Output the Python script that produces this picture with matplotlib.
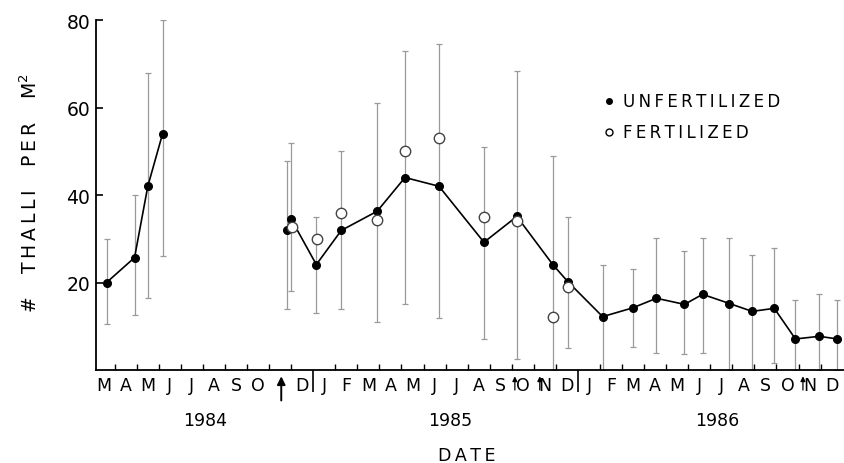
import numpy as np
import matplotlib.pyplot as plt
import matplotlib.transforms as mtransforms

# x positions are in months since 1 Jan 1984
unf_x_1984 = [2.63, 3.9, 4.5, 5.17]
unf_y_1984 = [20, 25.7, 42, 54]
unf_lo_1984 = [10.5, 12.5, 16.5, 26]
unf_hi_1984 = [30, 40, 68, 80]

unf_x = [10.83, 11.0, 12.14, 13.27, 14.9, 16.16, 17.7, 19.74, 21.23, 22.86, 23.54,
         25.12, 26.48, 27.56, 28.83, 29.65, 30.87, 31.9, 32.9, 33.86, 34.94, 35.76]
unf_y = [32, 34.5, 24.1, 31.9, 36.3, 44, 42, 29.2, 35.1, 24.1, 20.2,
         12.2, 14.2, 16.4, 15, 17.3, 15.2, 13.4, 14.1, 7.1, 7.7, 7.1]
unf_lo = [14, 18, 13, 14, 11, 15, 12, 7, 2.5, 0, 5,
          0, 5.2, 4, 3.6, 4, 0, 0, 1.6, 0, 0, 0]
unf_hi = [47.7, 52, 35, 50, 61, 73, 74.5, 51, 68.3, 49, 35,
          24, 23.2, 30.2, 27.3, 30.2, 30.2, 26.4, 28, 16.1, 17.3, 16.1]

fert_x = [11.05, 12.18, 13.27, 14.9, 16.16, 17.7, 19.74, 21.23, 22.86, 23.54]
fert_y = [32.7, 30, 35.8, 34.2, 50, 53, 35, 34, 12.2, 19]

# month labels from Mar 1984 to Dec 1986 (Nov 1984 carries the arrow)
month_labels = (['M', 'A', 'M', 'J', 'J', 'A', 'S', 'O', '', 'D']
                + ['J', 'F', 'M', 'A', 'M', 'J', 'J', 'A', 'S', 'O', 'N', 'D']
                + ['J', 'F', 'M', 'A', 'M', 'J', 'J', 'A', 'S', 'O', 'N', 'D'])
first_month = 2
years = ['1984', '1985', '1986']
year_pos = [7.1, 18.2, 30.3]
big_arrow_x = 10.55
small_arrow_x = [21.14, 22.27, 34.2]


def spaced(s):
    # the lettering in the original is widely tracked
    return '\u2009'.join(s)


plt.rcParams['font.family'] = 'DejaVu Sans'

fig = plt.figure(figsize=(8.44, 4.64), dpi=100)
ax = fig.add_axes([0.1137, 0.2004, 0.886, 0.7543])

grey = '#9a9a9a'

# error bars
for xs, ys, lo, hi in [(unf_x_1984, unf_y_1984, unf_lo_1984, unf_hi_1984),
                       (unf_x, unf_y, unf_lo, unf_hi)]:
    ys = np.array(ys)
    yerr = [ys - np.array(lo), np.array(hi) - ys]
    ax.errorbar(xs, ys, yerr=yerr, fmt='none', ecolor=grey, elinewidth=0.9,
                capsize=2.5, capthick=0.9, zorder=1)

ax.plot(unf_x_1984, unf_y_1984, color='black', lw=1.2, marker='o', ms=5.5, zorder=3)
ax.plot(unf_x, unf_y, color='black', lw=1.2, marker='o', ms=5.5, zorder=3)
ax.plot(fert_x, fert_y, ls='none', marker='o', ms=7.5, mfc='white',
        mec='#444444', mew=1.0, zorder=4)

ax.set_xlim(2.15, 36.05)
ax.set_ylim(0, 80)

for s in ['top', 'right']:
    ax.spines[s].set_visible(False)
for s in ['left', 'bottom']:
    ax.spines[s].set_linewidth(1.3)

ax.set_yticks([20, 40, 60, 80])
ax.tick_params(axis='y', direction='in', length=5, width=1.2, labelsize=13.5, pad=4)

# month boundary ticks (inside) and year boundaries (outside)
ax.set_xticks([12, 24])
ax.set_xticklabels([])
ax.tick_params(axis='x', which='major', direction='out', length=16, width=1.2)
ax.set_xticks(np.arange(3, 36), minor=True)
ax.tick_params(axis='x', which='minor', direction='in', length=4.5, width=1.0)

trans = mtransforms.blended_transform_factory(ax.transData, ax.transAxes)
for i, lab in enumerate(month_labels):
    ax.text(first_month + i + 0.5, -0.018, lab, transform=trans, ha='center',
            va='top', fontsize=12.5, clip_on=False)

for yr, xp in zip(years, year_pos):
    ax.text(xp, -0.118, yr, transform=trans, ha='center', va='top',
            fontsize=12.5, clip_on=False)
ax.text(18.95, -0.217, spaced('DATE'), transform=trans, ha='center', va='top',
        fontsize=12.5, clip_on=False)

ax.annotate('', xy=(big_arrow_x, -0.01), xytext=(big_arrow_x, -0.095),
            xycoords=trans, textcoords=trans,
            arrowprops=dict(arrowstyle='-|>', color='black', lw=1.4,
                            mutation_scale=12))
for xa in small_arrow_x:
    ax.annotate('', xy=(xa, -0.01), xytext=(xa, -0.065),
                xycoords=trans, textcoords=trans,
                arrowprops=dict(arrowstyle='-|>', color='black', lw=0.9,
                                mutation_scale=7))

ylab = spaced('#') + '    ' + spaced('THALLI') + '    ' + spaced('PER') + '    ' + 'M$^2$'
fig.text(0.036, 0.585, ylab, rotation=90, ha='center', va='center', fontsize=13.5)

# legend
ax.plot([25.4], [61.4], marker='o', color='black', ms=4, ls='none', clip_on=False)
ax.text(26.05, 61.4, spaced('UNFERTILIZED'), va='center', ha='left', fontsize=12)
ax.plot([25.4], [54.3], marker='o', mfc='white', mec='black', ms=5, ls='none',
        clip_on=False)
ax.text(26.05, 54.3, spaced('FERTILIZED'), va='center', ha='left', fontsize=12)

fig.savefig('out.png', dpi=100)
